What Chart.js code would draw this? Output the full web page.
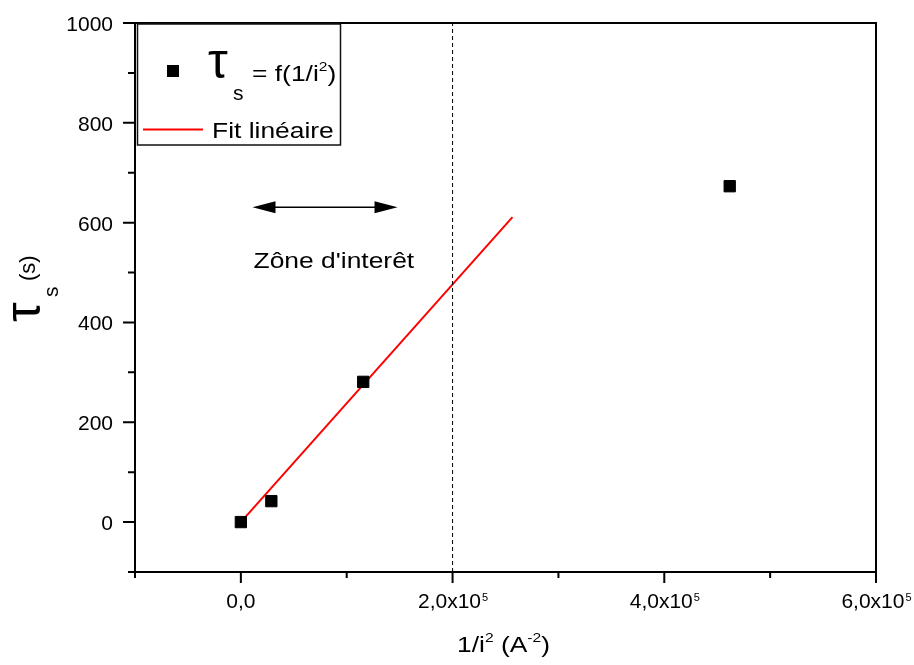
<!DOCTYPE html>
<html>
<head>
<meta charset="utf-8">
<script src="https://cdn.jsdelivr.net/npm/chart.js@4/dist/chart.umd.min.js"></script>
<style>
  html, body { margin: 0; padding: 0; background: #fff; }
  #c { display: block; }
</style>
</head>
<body>
<canvas id="c" width="914" height="665"></canvas>
<script>
  // Measured values
  const tauX = [0, 28800, 115600, 461800];
  const tauY = [0, 42, 281, 673];

  // Linear fit segment
  const fitX = [0, 256600];
  const fitY = [0, 611];

  // Vertical dashed marker and arrow of the zone of interest
  const markerX = 200000;
  const arrowX = [11000, 148000];
  const arrowY = 631;
  const zoneLabelX = 12000;
  const zoneLabelY = 510;

  // Axes
  const xRange = [-100000, 600000];
  const yRange = [-100, 1000];
  const xMajor = [0, 200000, 400000, 600000];
  const xMajorLabels = ['0,0', '2,0x10', '4,0x10', '6,0x10'];
  const xMajorExp = ['', '5', '5', '5'];
  const xMinor = [-100000, 100000, 300000, 500000];
  const yMajor = [0, 200, 400, 600, 800, 1000];
  const yMinor = [-100, 100, 300, 500, 700, 900];

  const FONT = '"Liberation Sans", Arial, sans-serif';
  const STRETCH = 1.2;

  // draws a run of [text, size, dy] pieces, stretched horizontally
  function drawRuns(ctx, x, y, runs, stretch) {
    ctx.save();
    ctx.translate(x, y);
    ctx.scale(stretch, 1);
    let cx = 0;
    runs.forEach(([t, size, dy]) => {
      ctx.font = size + 'px ' + FONT;
      ctx.fillText(t, cx, dy || 0);
      cx += ctx.measureText(t).width;
    });
    ctx.restore();
  }

  const framePlugin = {
    id: 'frame',
    afterDraw(chart) {
      const { ctx, chartArea: a, scales } = chart;
      const xs = scales.x, ys = scales.y;
      ctx.save();
      ctx.fillStyle = '#000';
      ctx.strokeStyle = '#000';

      // frame
      ctx.lineWidth = 2;
      ctx.strokeRect(a.left, a.top, a.right - a.left, a.bottom - a.top);

      // ticks
      ctx.beginPath();
      xMajor.forEach(v => { const p = xs.getPixelForValue(v); ctx.moveTo(p, a.bottom); ctx.lineTo(p, a.bottom + 11); });
      xMinor.forEach(v => { const p = xs.getPixelForValue(v); ctx.moveTo(p, a.bottom); ctx.lineTo(p, a.bottom + 6); });
      yMajor.forEach(v => { const p = ys.getPixelForValue(v); ctx.moveTo(a.left, p); ctx.lineTo(a.left - 12, p); });
      yMinor.forEach(v => { const p = ys.getPixelForValue(v); ctx.moveTo(a.left, p); ctx.lineTo(a.left - 7, p); });
      ctx.stroke();

      // y tick labels
      ctx.font = '21px ' + FONT;
      ctx.textAlign = 'right';
      ctx.textBaseline = 'alphabetic';
      yMajor.forEach(v => {
        ctx.fillText(String(v), a.left - 22, ys.getPixelForValue(v) + 8);
      });

      // x tick labels with exponent
      ctx.textAlign = 'left';
      xMajor.forEach((v, i) => {
        ctx.font = '21px ' + FONT;
        const w1 = ctx.measureText(xMajorLabels[i]).width;
        ctx.font = '11px ' + FONT;
        const w2 = xMajorExp[i] ? ctx.measureText(xMajorExp[i]).width : 0;
        const x0 = xs.getPixelForValue(v) - (w1 + w2) / 2;
        ctx.font = '21px ' + FONT;
        ctx.fillText(xMajorLabels[i], x0, a.bottom + 36);
        if (xMajorExp[i]) {
          ctx.font = '11px ' + FONT;
          ctx.fillText(xMajorExp[i], x0 + w1 + 1, a.bottom + 29);
        }
      });

      // x title
      drawRuns(ctx, 457, 652, [
        ['1/i', 22], ['2', 13, -10], [' (A', 22], ['-2', 13, -10], [')', 22]
      ], STRETCH);

      // y title (rotated)
      ctx.save();
      ctx.rotate(-Math.PI / 2);
      ctx.font = '50px ' + FONT;
      ctx.fillText('\u03c4', -322, 40);
      ctx.font = '21px ' + FONT;
      ctx.fillText('s', -297, 58);
      ctx.font = '22px ' + FONT;
      ctx.fillText('(s)', -281, 35);
      ctx.restore();

      // arrow for the zone of interest
      const ax1 = xs.getPixelForValue(arrowX[0]);
      const ax2 = xs.getPixelForValue(arrowX[1]);
      const ay = ys.getPixelForValue(arrowY);
      ctx.lineWidth = 1.5;
      ctx.beginPath();
      ctx.moveTo(ax1 + 10, ay);
      ctx.lineTo(ax2 - 10, ay);
      ctx.stroke();
      ctx.beginPath();
      ctx.moveTo(ax1, ay); ctx.lineTo(ax1 + 23, ay - 6); ctx.lineTo(ax1 + 23, ay + 6); ctx.closePath();
      ctx.moveTo(ax2, ay); ctx.lineTo(ax2 - 23, ay - 6); ctx.lineTo(ax2 - 23, ay + 6); ctx.closePath();
      ctx.fill();

      drawRuns(ctx, xs.getPixelForValue(zoneLabelX), ys.getPixelForValue(zoneLabelY),
        [["Z\u00f4ne d'inter\u00eat", 22]], STRETCH);

      // legend box
      ctx.fillStyle = '#fff';
      ctx.fillRect(137, 24, 204, 121);
      ctx.lineWidth = 1.5;
      ctx.strokeStyle = '#111';
      ctx.strokeRect(137.5, 24, 203, 121);
      ctx.fillStyle = '#000';
      ctx.fillRect(167, 65, 12, 12);
      ctx.font = '50px ' + FONT;
      ctx.fillText('\u03c4', 208, 78);
      ctx.font = '21px ' + FONT;
      ctx.fillText('s', 233, 100);
      drawRuns(ctx, 252, 81, [['= f(1/i', 22], ['2', 13, -10], [')', 22]], STRETCH);
      ctx.strokeStyle = '#ff0000';
      ctx.lineWidth = 2;
      ctx.beginPath();
      ctx.moveTo(143, 129.5);
      ctx.lineTo(203, 129.5);
      ctx.stroke();
      drawRuns(ctx, 212, 138, [['Fit lin\u00e9aire', 22]], STRETCH);

      ctx.restore();
    }
  };

  const pts = (xsArr, ysArr) => xsArr.map((x, i) => ({ x, y: ysArr[i] }));

  new Chart(document.getElementById('c'), {
    type: 'scatter',
    data: {
      datasets: [
        {
          data: [{ x: markerX, y: yRange[0] }, { x: markerX, y: yRange[1] }],
          showLine: true,
          borderColor: '#000',
          borderWidth: 1,
          borderDash: [4, 3],
          pointRadius: 0
        },
        {
          data: pts(tauX, tauY),
          pointStyle: 'rect',
          pointRadius: 8,
          backgroundColor: '#000',
          borderColor: '#000',
          borderWidth: 1
        },
        {
          data: pts(fitX, fitY),
          showLine: true,
          borderColor: '#ff0000',
          borderWidth: 2,
          pointRadius: 0
        }
      ]
    },
    options: {
      responsive: false,
      devicePixelRatio: 1,
      animation: false,
      events: [],
      layout: { padding: { left: 135, right: 38, top: 23, bottom: 93 } },
      plugins: { legend: { display: false }, tooltip: { enabled: false } },
      scales: {
        x: { type: 'linear', min: xRange[0], max: xRange[1], display: false },
        y: { type: 'linear', min: yRange[0], max: yRange[1], display: false }
      }
    },
    plugins: [framePlugin]
  });
</script>
</body>
</html>
